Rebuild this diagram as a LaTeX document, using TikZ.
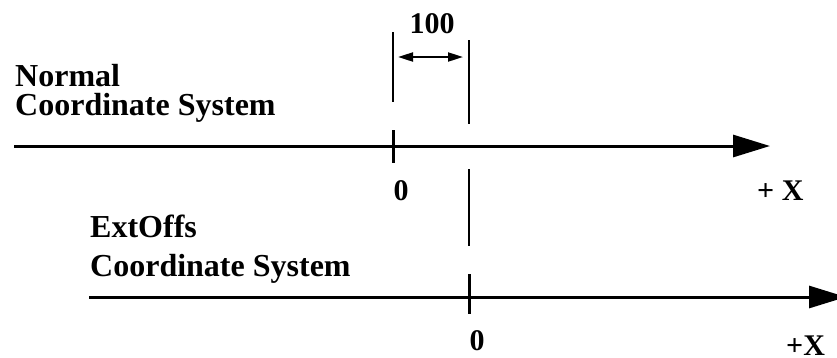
\documentclass[tikz,border=0pt]{standalone}
\usepackage{fontspec}
\setmainfont{Liberation Serif}
\usetikzlibrary{arrows.meta}

\begin{document}
\begin{tikzpicture}[x=1pt,y=-1pt,
  axis/.style={line width=3pt,-{Triangle[length=37pt,width=22pt]}},
  tickline/.style={line width=3pt},
  guide/.style={line width=2pt},
  dim/.style={line width=2pt,{Triangle[length=15pt,width=9pt]}-{Triangle[length=15pt,width=9pt]}},
  lbl/.style={font=\fontsize{32}{29}\selectfont\bfseries,inner sep=0,anchor=base west,align=left},
  num/.style={font=\fontsize{30}{30}\selectfont\bfseries,inner sep=0,anchor=base}]
  \useasboundingbox (0,0) rectangle (837,357);

  \coordinate (nstart) at (14,146);
  \coordinate (nend) at (770,146);
  \coordinate (estart) at (89,297);
  \coordinate (eend) at (846,297);

  \node[lbl] (normal) at (15,115) {Normal\\Coordinate System};
  \node[lbl,font=\fontsize{32}{39}\selectfont\bfseries] (extoffs) at (90,276) {ExtOffs\\Coordinate System};

  \draw[axis] (nstart) -- (nend);
  \draw[axis] (estart) -- (eend);

  \draw[tickline] (393,130) coordinate (nt1) -- (393,163) coordinate (nt2);
  \draw[tickline] (469,274) coordinate (et1) -- (469,314) coordinate (et2);

  \draw[guide] (393,32) coordinate (g1) -- (393,102) coordinate (g2);
  \draw[guide] (469,40) coordinate (g3) -- (469,124) coordinate (g4);
  \draw[guide] (469,169) coordinate (g5) -- (469,246) coordinate (g6);

  \coordinate (d1) at (398,57);
  \coordinate (d2) at (463,57);
  \draw[dim] (d1) -- (d2);
  \node[num] (dist) at (432,33) {100};

  \node[num] (nzero) at (401,200) {0};
  \node[num] (ezero) at (477,350) {0};
  \node[lbl,font=\fontsize{30}{30}\selectfont\bfseries] (nx) at (757,200) {+ X};
  \node[lbl,font=\fontsize{30}{30}\selectfont\bfseries] (ex) at (786,355) {+X};
\end{tikzpicture}
\end{document}
